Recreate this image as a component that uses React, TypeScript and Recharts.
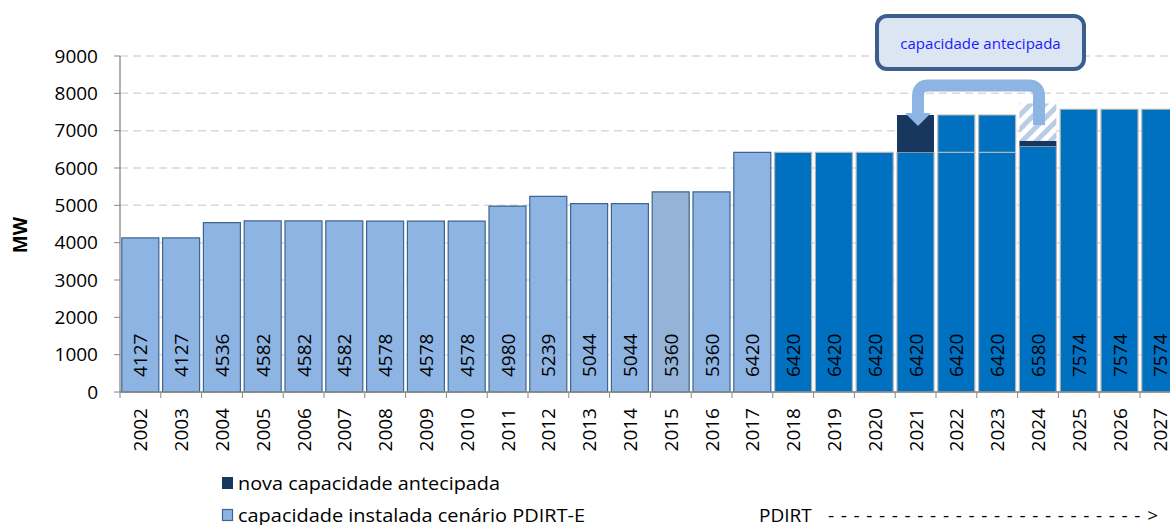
import { BarChart, Bar, XAxis, YAxis, CartesianGrid, Cell, LabelList } from "recharts";

const years = [
  "2002", "2003", "2004", "2005", "2006", "2007", "2008", "2009", "2010",
  "2011", "2012", "2013", "2014", "2015", "2016", "2017", "2018", "2019",
  "2020", "2021", "2022", "2023", "2024", "2025", "2026", "2027",
];

// capacidade instalada (MW)
const installed = [
  4127, 4127, 4536, 4582, 4582, 4582, 4578, 4578, 4578, 4980, 5239, 5044, 5044,
  5360, 5360, 6420, 6420, 6420, 6420, 6420, 6420, 6420, 6580, 7574, 7574, 7574,
];

// nova capacidade antecipada
const anticipated = [
  null, null, null, null, null, null, null, null, null, null, null, null, null,
  null, null, null, null, null, null, 1000, null, null, 150, null, null, null,
];

// reforço já previsto no PDIRT
const planned = [
  null, null, null, null, null, null, null, null, null, null, null, null, null,
  null, null, null, null, null, null, null, 1000, 1000, null, null, null, null,
];

// capacidade que deixa de entrar (tracejado)
const moved = [
  null, null, null, null, null, null, null, null, null, null, null, null, null,
  null, null, null, null, null, null, null, null, null, 1000, null, null, null,
];

const yTicks = [0, 1000, 2000, 3000, 4000, 5000, 6000, 7000, 8000, 9000];

const data = years.map((year, i) => ({
  year,
  installed: installed[i],
  anticipated: anticipated[i],
  planned: planned[i],
  moved: moved[i],
}));

const FONT = "'Open Sans', 'Noto Sans', sans-serif";
const LIGHT = "#8eb4e3";
const GREYBLUE = "#95b3d7";
const DARK = "#0070c0";
const NAVY = "#17375e";
const AXIS = "#868686";
const BAND = 40.8;
const FIRST_PDIRT = 2018;

const baseFill = (year: string) =>
  Number(year) >= FIRST_PDIRT ? DARK : year === "2015" ? GREYBLUE : LIGHT;
const baseStroke = (year: string) =>
  Number(year) >= FIRST_PDIRT ? "#b5b5b5" : "#3d6493";

const YearTick = (props: any) => {
  const { x, y, payload, index } = props;
  const ty = y + 16;
  return (
    <g>
      <line x1={x - BAND / 2} y1={y} x2={x - BAND / 2} y2={y + 6} stroke={AXIS} />
      {index === years.length - 1 && (
        <line x1={x + BAND / 2} y1={y} x2={x + BAND / 2} y2={y + 6} stroke={AXIS} />
      )}
      <text
        x={x}
        y={ty}
        transform={`rotate(-90, ${x}, ${ty})`}
        textAnchor="end"
        dominantBaseline="central"
        fontSize={19}
        fontFamily={FONT}
        fill="#000"
      >
        {payload.value}
      </text>
    </g>
  );
};

const ValueLabel = (props: any) => {
  const { x, y, width, height, value } = props;
  if (value == null) return null;
  const cx = x + width / 2;
  const by = y + height - 15;
  return (
    <text
      x={cx}
      y={by}
      transform={`rotate(-90, ${cx}, ${by})`}
      textAnchor="start"
      dominantBaseline="central"
      fontSize={19}
      fontFamily={FONT}
      fill="#000"
    >
      {value}
    </text>
  );
};

export default function App() {
  return (
    <div
      style={{
        position: "fixed",
        left: 0,
        top: 0,
        width: 1170,
        height: 525,
        overflow: "hidden",
        background: "#fff",
        fontFamily: FONT,
      }}
    >
      <BarChart
        width={1190}
        height={525}
        data={data}
        margin={{ top: 56, right: 9.2, bottom: 0, left: 0 }}
        barCategoryGap={1.8}
      >
        <defs>
          <pattern id="hatch" width="10" height="10" patternUnits="userSpaceOnUse" patternTransform="rotate(45)">
            <rect width="10" height="10" fill="#fff" />
            <rect width="5" height="10" fill="#b9cde5" />
          </pattern>
        </defs>
        <CartesianGrid vertical={false} stroke="#d9d9d9" strokeWidth={1.5} strokeDasharray="8 5" />
        <XAxis
          dataKey="year"
          height={133}
          interval={0}
          tickSize={0}
          tickMargin={0}
          tickLine={false}
          axisLine={{ stroke: AXIS, strokeWidth: 1.3 }}
          tick={<YearTick />}
        />
        <YAxis
          width={120}
          domain={[0, 9000]}
          ticks={yTicks}
          interval={0}
          tickSize={6}
          tickMargin={16}
          axisLine={{ stroke: AXIS, strokeWidth: 1.3 }}
          tickLine={{ stroke: AXIS }}
          tick={{ fontSize: 19, fill: "#000", fontFamily: FONT }}
        />
        <Bar dataKey="installed" stackId="a" strokeWidth={1.2} isAnimationActive={false}>
          {years.map((year) => (
            <Cell key={year} fill={baseFill(year)} stroke={baseStroke(year)} />
          ))}
          <LabelList dataKey="installed" content={<ValueLabel />} />
        </Bar>
        <Bar dataKey="anticipated" stackId="a" fill={NAVY} isAnimationActive={false} />
        <Bar dataKey="planned" stackId="a" fill={DARK} stroke="#b5b5b5" strokeWidth={1.2} isAnimationActive={false} />
        <Bar dataKey="moved" stackId="a" fill="url(#hatch)" isAnimationActive={false} />
      </BarChart>

      <svg
        width={1170}
        height={525}
        style={{ position: "absolute", left: 0, top: 0, pointerEvents: "none" }}
      >
        <text
          x={20}
          y={235}
          transform="rotate(-90, 20, 235)"
          textAnchor="middle"
          dominantBaseline="central"
          fontSize={19}
          fontWeight="bold"
          fontFamily={FONT}
        >
          MW
        </text>

        {/* seta: capacidade antecipada de 2024 para 2021 */}
        <path
          d="M 1039 125 L 1039 96 Q 1039 85.5 1028.5 85.5 L 928.5 85.5 Q 918 85.5 918 96 L 918 114"
          fill="none"
          stroke="#8db4e2"
          strokeWidth={12}
        />
        <polygon points="905,113 931,113 918,126" fill="#8db4e2" />

        <rect x={877} y={16} width={207} height={53} rx={10} ry={10} fill="#dce6f2" stroke="#3b5e8c" strokeWidth={4} />
        <text x={980.5} y={43} textAnchor="middle" dominantBaseline="central" fontSize={15} fontFamily={FONT} fill="#1a1aff">
          capacidade antecipada
        </text>

        {/* legenda */}
        <rect x={222} y={477} width={11} height={12} fill={NAVY} />
        <text x={238} y={483} dominantBaseline="central" fontSize={18} fontFamily={FONT} textLength={262} lengthAdjust="spacingAndGlyphs">
          nova capacidade antecipada
        </text>
        <rect x={222.5} y={509.5} width={10} height={11} fill={LIGHT} stroke="#3d6493" strokeWidth={1.2} />
        <text x={238} y={515} dominantBaseline="central" fontSize={18} fontFamily={FONT} textLength={347} lengthAdjust="spacingAndGlyphs">
          capacidade instalada cenário PDIRT-E
        </text>

        <text x={759} y={515} dominantBaseline="central" fontSize={19} fontFamily={FONT}>
          PDIRT
        </text>
        <text x={828} y={515} dominantBaseline="central" fontSize={19} fontFamily={FONT} textLength={330} lengthAdjust="spacing">
          -------------------------&gt;
        </text>
      </svg>
    </div>
  );
}
